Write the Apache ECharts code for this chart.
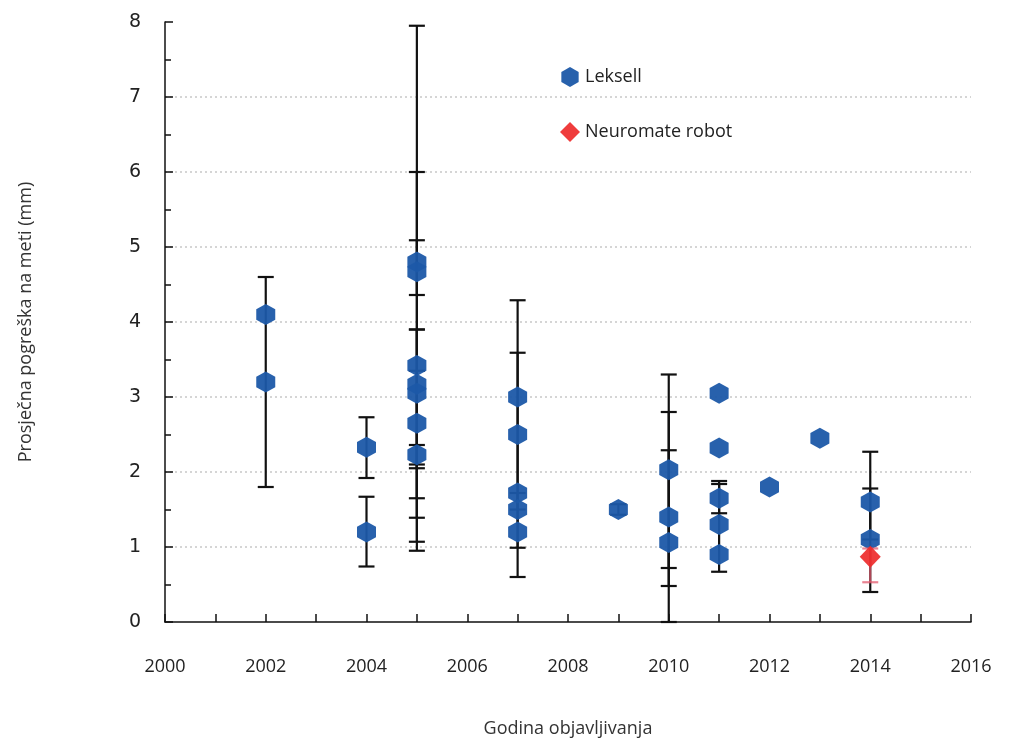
<!DOCTYPE html>
<html>
<head>
<meta charset="utf-8">
<script src="https://cdn.jsdelivr.net/npm/echarts@6/dist/echarts.min.js"></script>
<style>html,body{margin:0;padding:0;background:#fff}#c{width:1028px;height:743px}</style>
</head>
<body>
<div id="c"></div>
<script>
// Leksell data (year, mean error mm, error bar low, error bar high; null = no bar)
const leksellYears = [2002, 2002, 2004, 2004, 2005, 2005, 2005, 2005, 2005, 2005, 2005, 2007, 2007, 2007, 2007, 2007, 2009, 2010, 2010, 2010, 2011, 2011, 2011, 2011, 2011, 2012, 2013, 2014, 2014];
const leksellValues = [4.1, 3.2, 2.33, 1.2, 4.8, 4.67, 3.42, 3.17, 3.05, 2.65, 2.23, 3.0, 2.5, 1.72, 1.5, 1.2, 1.5, 2.03, 1.4, 1.06, 3.05, 2.32, 1.65, 1.3, 0.9, 1.8, 2.45, 1.6, 1.1];
const leksellLow  = [null, 1.8, 1.92, 0.74, 1.65, 4.36, 0.95, 2.05, 1.07, 1.39, 2.1, 0.6, 1.5, null, 0.99, null, 1.43, 0, 0.48, 0.72, null, null, 1.45, null, 0.67, null, null, 1.1, 0.4];
const leksellHigh = [null, 4.6, 2.73, 1.67, 7.95, 5.09, 6.0, 3.9, 3.35, 3.9, 2.36, 4.29, 3.59, null, 1.72, null, 1.57, 3.3, 2.8, 2.29, null, null, 1.88, null, 1.84, null, null, 2.27, 1.78];
// Neuromate robot data
const robotYears = [2014];
const robotValues = [0.87];
const robotLow = [0.53];
const robotHigh = [0.98];
// Axis ticks
const xMin = 2000, xMax = 2016, xStep = 2;
const yMin = 0, yMax = 8, yStep = 1;

const hexPath = 'path://M0,-1 L0.866,-0.5 L0.866,0.5 L0,1 L-0.866,0.5 L-0.866,-0.5 Z';
const blue = '#1c58a8';
const red = '#ee2b2b';

function zip(xs, vs) { return xs.map((x, i) => [x, vs[i]]); }
function bars(xs, lo, hi) {
  const out = [];
  xs.forEach((x, i) => { if (lo[i] != null && hi[i] != null) out.push([x, lo[i], hi[i]]); });
  return out;
}
function errRender(color, w) {
  return function (params, api) {
    const x = api.value(0);
    const p1 = api.coord([x, api.value(1)]);
    const p2 = api.coord([x, api.value(2)]);
    const hw = 8;
    const style = { stroke: color, lineWidth: w, fill: null };
    return {
      type: 'group',
      children: [
        { type: 'line', shape: { x1: p1[0], y1: p1[1], x2: p2[0], y2: p2[1] }, style: style },
        { type: 'line', shape: { x1: p1[0] - hw, y1: p1[1], x2: p1[0] + hw, y2: p1[1] }, style: style },
        { type: 'line', shape: { x1: p2[0] - hw, y1: p2[1], x2: p2[0] + hw, y2: p2[1] }, style: style }
      ]
    };
  };
}

const chart = echarts.init(document.getElementById('c'));
chart.setOption({
  backgroundColor: '#fff',
  animation: false,
  grid: { left: 165, right: 57, top: 22, bottom: 121 },
  legend: {
    left: 555, top: 62, orient: 'vertical', itemGap: 35,
    itemWidth: 20, itemHeight: 20,
    textStyle: { fontFamily: 'Open Sans', fontSize: 18, color: '#222' },
    data: [
      { name: 'Leksell', icon: hexPath },
      { name: 'Neuromate robot', icon: 'diamond' }
    ]
  },
  xAxis: {
    type: 'value', min: xMin, max: xMax, interval: xStep,
    name: 'Godina objavljivanja', nameLocation: 'middle', nameGap: 98,
    nameTextStyle: { fontFamily: 'Open Sans', fontSize: 18, color: '#333' },
    axisLine: { show: true, lineStyle: { color: '#111', width: 1.5 } },
    axisTick: { show: true, inside: true, length: 8, lineStyle: { color: '#111', width: 1.5 } },
    minorTick: { show: true, splitNumber: 2, length: 8, lineStyle: { color: '#111', width: 1.5 } },
    axisLabel: { margin: 36, fontFamily: 'Open Sans', fontSize: 18, color: '#222', formatter: v => String(v) },
    splitLine: { show: false }
  },
  yAxis: {
    type: 'value', min: yMin, max: yMax, interval: yStep,
    name: 'Prosječna pogreška na meti (mm)', nameLocation: 'middle', nameGap: 130,
    nameTextStyle: { fontFamily: 'Open Sans', fontSize: 18, color: '#333' },
    axisLine: { show: true, lineStyle: { color: '#111', width: 1.5 } },
    axisTick: { show: true, inside: true, length: 8, lineStyle: { color: '#111', width: 1.5 } },
    minorTick: { show: true, splitNumber: 2, length: 6, lineStyle: { color: '#111', width: 1.5 } },
    axisLabel: { margin: 24, fontFamily: 'DejaVu Sans', fontSize: 19, color: '#222' },
    splitLine: { show: true, showMinLine: false, showMaxLine: false, lineStyle: { color: '#c8c8c8', type: [2, 3], width: 1.5 } }
  },
  series: [
    { type: 'custom', name: 'LeksellErr', renderItem: errRender('#111', 2.2), data: bars(leksellYears, leksellLow, leksellHigh), z: 2, silent: true },
    { type: 'scatter', name: 'Leksell', symbol: hexPath, symbolSize: [19, 21], itemStyle: { color: blue, opacity: 0.95 }, data: zip(leksellYears, leksellValues), z: 3 },
    { type: 'custom', name: 'RobotErr', renderItem: errRender('rgba(225,90,110,0.75)', 2.2), data: bars(robotYears, robotLow, robotHigh), z: 4, silent: true },
    { type: 'scatter', name: 'Neuromate robot', symbol: 'diamond', symbolSize: [21, 22], itemStyle: { color: red, opacity: 0.92 }, data: zip(robotYears, robotValues), z: 5 }
  ]
});
</script>
</body>
</html>
